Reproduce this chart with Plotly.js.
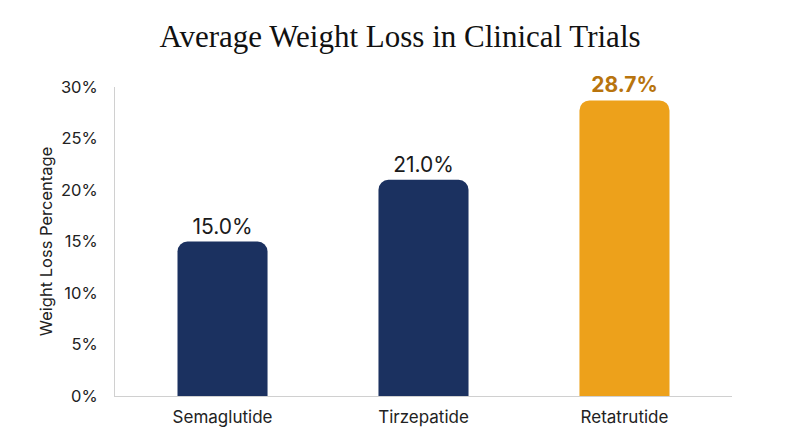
<!DOCTYPE html>
<html><head><meta charset="utf-8">
<script src="https://cdn.plot.ly/plotly-3.0.1.min.js"></script>
<style>html,body{margin:0;padding:0;background:#fff;}#chart{width:800px;height:447px;}</style>
</head><body><div id="chart"></div>
<script>
const drugs = ["Semaglutide", "Tirzepatide", "Retatrutide"];
const weightLoss = [15.0, 21.0, 28.7];
const barColors = ["#1b3160", "#1b3160", "#eda11b"];
const labelColors = ["#1a1a1a", "#1a1a1a", "#b8740e"];
const labelWeights = [400, 400, 700];
const yTickVals = [0, 5, 10, 15, 20, 25, 30];
const yTickText = ["0%", "5%", "10%", "15%", "20%", "25%", "30%"];

const trace = {
  type: "bar",
  x: drugs,
  y: weightLoss,
  marker: {color: barColors, cornerradius: 10, line: {width: 0}},
  text: weightLoss.map(v => v.toFixed(1) + "%"),
  textposition: "outside",
  textfont: {family: "Inter, sans-serif", size: 21, color: labelColors, weight: labelWeights},
  cliponaxis: false,
  hoverinfo: "none"
};

const layout = {
  width: 800, height: 447,
  margin: {l: 115, r: 68, t: 87, b: 51},
  paper_bgcolor: "#fff", plot_bgcolor: "#fff",
  bargap: 0.552,
  showlegend: false,
  title: {text: "Average Weight Loss in Clinical Trials", x: 0.5, xanchor: "center", y: 0.92, yanchor: "middle",
          font: {family: "Liberation Serif, serif", size: 31, color: "#111"}},
  xaxis: {
    range: [-0.535, 2.535],
    showline: true, linecolor: "#d0d0d0", linewidth: 1,
    showgrid: false, zeroline: false, ticks: "",
    tickfont: {family: "Inter, sans-serif", size: 17, color: "#222"},
    ticklabelstandoff: 6
  },
  yaxis: {
    range: [0, 30],
    tickvals: yTickVals, ticktext: yTickText,
    showline: true, linecolor: "#d0d0d0", linewidth: 1,
    showgrid: false, zeroline: false, ticks: "",
    tickfont: {family: "Inter, sans-serif", size: 16.5, color: "#222"},
    ticklabelstandoff: 13,
    title: {text: "Weight Loss Percentage", font: {family: "Inter, sans-serif", size: 16.5, color: "#222"}, standoff: 4}
  }
};

Plotly.newPlot("chart", [trace], layout, {displayModeBar: false, staticPlot: true});
</script>
</body></html>
